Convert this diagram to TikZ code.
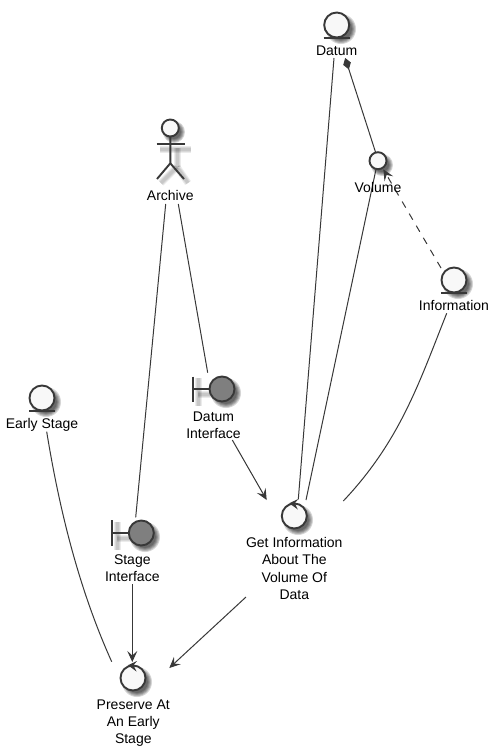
\documentclass[tikz,border=0pt]{standalone}
\usepackage{fontspec}
\setmainfont{Liberation Sans}
\usetikzlibrary{arrows.meta}
\definecolor{ink}{HTML}{383838}
\definecolor{paper}{HTML}{F8F8F8}
\definecolor{solid}{HTML}{7F7F7F}
\tikzset{
  x=1pt,y=-1pt,
  ball/.style={circle,draw=ink,line width=1.9pt,fill=paper,inner sep=0pt,minimum size=25pt},
  smallball/.style={ball,minimum size=17pt},
  darkball/.style={ball,fill=solid},
  stroke/.style={draw=ink,line width=1.9pt},
  lbl/.style={inner sep=0pt,align=center,text=black,font=\fontsize{14}{17.3}\selectfont},
  link/.style={draw=ink,line width=1pt},
  head/.style={-{Stealth[length=11pt,width=10pt,inset=4.5pt]}},
}
\newcommand{\softdisc}[3]{% x y r
  \foreach \d in {2.5,1.5,0.5,-0.5,-1.5}{
    \fill[black,opacity=0.16] (#1+4,#2+4) circle[radius=#3+\d];}}
\newcommand{\softbar}[4]{% x1 y1 x2 y2
  \foreach \w in {7,5,3}{
    \draw[black,opacity=0.08,line width=\w pt] (#1,#2) -- (#3,#4);}}
\newcommand{\turnmark}[1]{%
  \fill[ink] ([shift={(-5,-12.8)}]#1.center) -- ([shift={(4,-17)}]#1.center)
    -- ([shift={(0.5,-12.8)}]#1.center) -- ([shift={(3.5,-6.5)}]#1.center) -- cycle;}
\begin{document}
\begin{tikzpicture}
\useasboundingbox[fill=white] (0,0) rectangle (499,756);
% shadows
\softdisc{337}{25}{12.5}
\softdisc{378}{161}{8.5}
\softdisc{454}{280}{12.5}
\softdisc{42}{398}{12.5}
\softdisc{222}{389}{12.5}
\softdisc{141}{533}{12.5}
\softdisc{294}{516}{12.5}
\softdisc{133}{678}{12.5}
\softdisc{170}{128}{8.5}
\softbar{160}{149}{191}{149}
\softbar{177}{148}{177}{167}
\softbar{177}{167}{161}{183}
\softbar{177}{167}{188}{183}
\softbar{198}{378}{198}{406}
\softbar{198}{394}{212}{394}
\softbar{117}{522}{117}{550}
\softbar{117}{538}{131}{538}
% entities
\node[ball] (datum) at (336.7,25) {};
\draw[stroke] (323.5,38.3) -- (349.5,38.3);
\node[smallball] (volume) at (378,160.7) {};
\node[ball] (information) at (454,280) {};
\draw[stroke] (441,293.3) -- (467,293.3);
\node[ball] (earlystage) at (42,398) {};
\draw[stroke] (29,411.3) -- (55,411.3);
% boundaries
\node[darkball] (datumif) at (222,389) {};
\draw[stroke] (193.3,376.5) -- (193.3,402);
\draw[stroke] (193.3,389) -- (209.5,389);
\node[darkball] (stageif) at (141.3,533) {};
\draw[stroke] (112.3,520) -- (112.3,545.7);
\draw[stroke] (112.3,533) -- (128.8,533);
% controls
\node[ball] (getinfo) at (294.3,516) {};
\node[ball] (preserve) at (133,678) {};
\turnmark{getinfo}
\turnmark{preserve}
% actor
\node[smallball] (archive) at (170.3,128) {};
\draw[stroke] (156.5,144.3) -- (184.5,144.3);
\draw[stroke] (170.3,136.5) -- (170.3,163.3) -- (157,179);
\draw[stroke] (170.3,163.3) -- (184,179);
% connectors
\path[link] ([shift={(-2.7,33)}]datum.center) -- ([shift={(4,-16.7)}]getinfo.center);
\path[link,{Diamond[length=12pt,width=8pt]}-] ([shift={(8.5,33)}]datum.center) -- ([shift={(-2.3,-8)}]volume.center);
\path[link] ([shift={(-2,8.6)}]volume.center) -- ([shift={(11.7,-16)}]getinfo.center);
\path[link,head,dashed,dash pattern=on 7pt off 7pt] ([shift={(-13,-12)}]information.center) -- ([shift={(5.3,8.6)}]volume.center);
\path[link] ([shift={(-7.3,33.3)}]information.center) .. controls (419,383) and (400,441) .. ([shift={(49,-15)}]getinfo.center);
\path[link] ([shift={(-4.6,76)}]archive.center) -- ([shift={(-5.6,-15.7)}]stageif.center);
\path[link] ([shift={(8,76)}]archive.center) -- ([shift={(-14.3,-16.3)}]datumif.center);
\path[link,head] ([shift={(10.3,51)}]datumif.center) -- ([shift={(-27.6,-16)}]getinfo.center);
\path[link,head] ([shift={(-9,51)}]stageif.center) -- ([shift={(-0.7,-16)}]preserve.center);
\path[link,head] ([shift={(-48.3,81)}]getinfo.center) -- ([shift={(36.3,-10)}]preserve.center);
\path[link] ([shift={(4.7,33.7)}]earlystage.center) .. controls (59,507) and (78,587) .. ([shift={(-21.3,-16.3)}]preserve.center);
% labels
\node[lbl] (datumtxt) at (336.7,51) {Datum};
\node[lbl] (volumetxt) at (378,187) {Volume};
\node[lbl] (informationtxt) at (454,305) {Information};
\node[lbl] (earlytxt) at (42,424.5) {Early Stage};
\node[lbl] (archivetxt) at (170.3,195) {Archive};
\node[lbl] (datumiftxt) at (213.5,425) {Datum\\Interface};
\node[lbl] (stageiftxt) at (132.3,568) {Stage\\Interface};
\node[lbl] (getinfotxt) at (294.3,568.5) {Get Information\\About The\\Volume Of\\Data};
\node[lbl] (preservetxt) at (133.3,723) {Preserve At\\An Early\\Stage};
\end{tikzpicture}
\end{document}
